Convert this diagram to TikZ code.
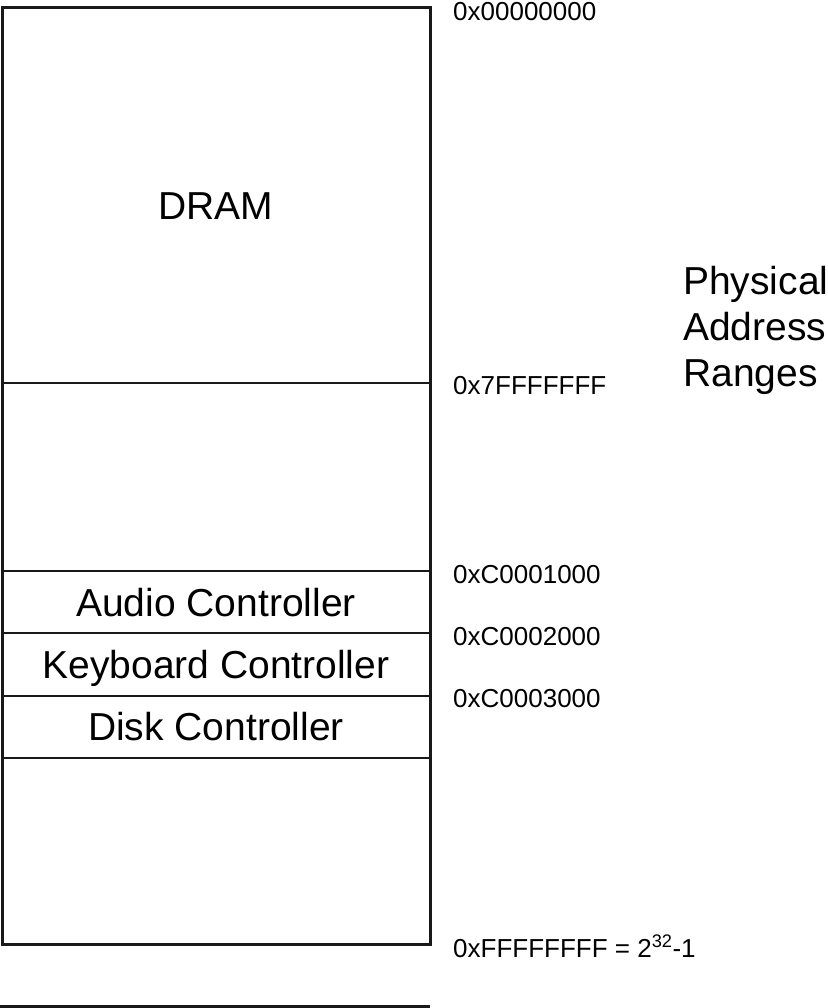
\documentclass[tikz,border=0pt]{standalone}
\usepackage{fontspec}
\setmainfont{Liberation Sans}
\begin{document}
\begin{tikzpicture}[x=1pt,y=-1pt,
  big/.style={font=\fontsize{39}{46}\selectfont, inner sep=0pt},
  addr/.style={font=\fontsize{26}{30}\selectfont, anchor=base west, inner sep=0pt},
  outerline/.style={line width=3pt, draw=black!90},
  innerline/.style={line width=2pt, draw=black!90}]
\useasboundingbox (0,0) rectangle (827,1008);
% outer memory box
\draw[outerline] (2.5,8) rectangle (430,944.5);
% dividing lines
\draw[innerline] (2.5,383) -- (430,383);
\draw[innerline] (2.5,571) -- (430,571);
\draw[innerline] (2.5,633) -- (430,633);
\draw[innerline] (2.5,695.5) -- (430,695.5);
\draw[innerline] (2.5,758) -- (430,758);
% bottom partial line
\draw[outerline] (0,1006) -- (430,1006);
% region labels
\node[big, anchor=base] (dram) at (216,219) {DRAM};
\node[big, anchor=base] (audio) at (216,616) {Audio Controller};
\node[big, anchor=base] (kbd) at (216,678) {Keyboard Controller};
\node[big, anchor=base] (disk) at (216,740) {Disk Controller};
% addresses
\node[addr] (a0) at (453,21) {0x00000000};
\node[addr] (a1) at (453,394) {0x7FFFFFFF};
\node[addr] (a2) at (453,583) {0xC0001000};
\node[addr] (a3) at (453,645) {0xC0002000};
\node[addr] (a4) at (453,707) {0xC0003000};
\node[addr] (a5) at (453,957) {0xFFFFFFFF = 2\textsuperscript{32}-1};
% title
\node[big, anchor=base west] (t1) at (683,294) {Physical};
\node[big, anchor=base west] (t2) at (683,340) {Address};
\node[big, anchor=base west] (t3) at (683,386) {Ranges};
\end{tikzpicture}
\end{document}
